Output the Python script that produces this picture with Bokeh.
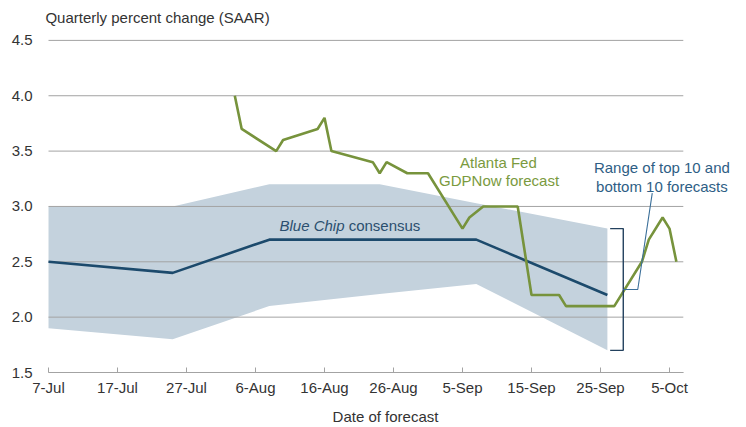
import pandas as pd
from bokeh.plotting import figure
from bokeh.models import Label, FixedTicker, Range1d, PrintfTickFormatter, ColumnDataSource
from bokeh.embed import file_html
from bokeh.resources import INLINE

YEAR = "2016"
START = "7-Jul"
AXIS_END = "7-Oct"

# x-axis tick labels (every 10 days)
x_tick_labels = ["7-Jul", "17-Jul", "27-Jul", "6-Aug", "16-Aug", "26-Aug",
                 "5-Sep", "15-Sep", "25-Sep", "5-Oct"]
y_ticks = [1.5, 2.0, 2.5, 3.0, 3.5, 4.0, 4.5]

# Range of top 10 and bottom 10 Blue Chip forecasts
range_dates = ["7-Jul", "25-Jul", "8-Aug", "24-Aug", "7-Sep", "26-Sep"]
range_upper = [3.0, 3.0, 3.2, 3.2, 3.03, 2.8]
range_lower = [1.9, 1.8, 2.1, 2.21, 2.3, 1.7]

# Blue Chip consensus
bc_dates = ["7-Jul", "25-Jul", "8-Aug", "7-Sep", "26-Sep"]
bc_values = [2.5, 2.4, 2.7, 2.7, 2.2]

# Atlanta Fed GDPNow forecast
gdp_dates = ["3-Aug", "4-Aug", "9-Aug", "10-Aug", "15-Aug", "16-Aug", "17-Aug",
             "23-Aug", "24-Aug", "25-Aug", "28-Aug", "31-Aug", "5-Sep", "6-Sep",
             "8-Sep", "13-Sep", "15-Sep", "19-Sep", "20-Sep", "27-Sep", "1-Oct",
             "2-Oct", "4-Oct", "5-Oct", "6-Oct"]
gdp_values = [4.0, 3.7, 3.5, 3.6, 3.7, 3.8, 3.5,
              3.4, 3.3, 3.4, 3.3, 3.3, 2.8, 2.9,
              3.0, 3.0, 2.2, 2.2, 2.1, 2.1, 2.5,
              2.7, 2.9, 2.8, 2.5]


def to_days(dates):
    start = pd.to_datetime(START + "-" + YEAR, format="%d-%b-%Y")
    d = pd.to_datetime([s + "-" + YEAR for s in dates], format="%d-%b-%Y")
    return [int(v) for v in (d - start).days]


x_ticks = to_days(x_tick_labels)
range_x = to_days(range_dates)
bc_x = to_days(bc_dates)
gdp_x = to_days(gdp_dates)
x_end = to_days([AXIS_END])[0]

FONT = "Liberation Sans"
TXT = "#333333"
GRID = "#a3a3a3"

# layout (pixels)
W, H = 730, 427
LEFT, BOTTOM = 40, 54
PAD_LEFT = 8          # space between frame edge and first date
PX_PER_DAY = 6.9
PX_PER_UNIT = 111.0
y_min = y_ticks[0]
x_start = -PAD_LEFT / PX_PER_DAY
x_stop = x_start + (W - LEFT) / PX_PER_DAY
y_stop = y_min + (H - BOTTOM) / PX_PER_UNIT

p = figure(width=W, height=H, output_backend="svg", toolbar_location=None,
           x_range=Range1d(x_start, x_stop), y_range=Range1d(y_min, y_stop),
           min_border_left=LEFT, min_border_right=0, min_border_top=0,
           min_border_bottom=BOTTOM)
p.outline_line_color = None
p.background_fill_color = "white"
p.border_fill_color = "white"

# shaded range (drawn below grid)
src_r = ColumnDataSource(dict(x=range_x, lo=range_lower, hi=range_upper))
shade = p.varea(x="x", y1="lo", y2="hi", source=src_r, fill_color="#c4d2dd")
shade.level = "image"

# horizontal grid lines limited to the axis extent
p.xgrid.visible = False
p.ygrid.visible = False
g = p.segment(x0=[0] * len(y_ticks), x1=[x_end] * len(y_ticks), y0=y_ticks, y1=y_ticks,
              line_color=GRID, line_width=1)
g.level = "underlay"

# Blue Chip consensus
p.line(bc_x, bc_values, line_color="#1c4a6c", line_width=2.6)

# GDPNow
p.line(gdp_x, gdp_values, line_color="#77933c", line_width=2.6)

# bracket for range end
end_x = range_x[-1]
top = range_upper[-1]
bot = range_lower[-1]
bx0 = end_x + 0.4
bx1 = end_x + 2.3
mid = (top + bot) / 2
p.line([bx0, bx1, bx1, bx0], [top, top, bot, bot], line_color="#23415e", line_width=1.4)
# leader from label to bracket
p.line([bx1, bx1 + 2.1, 87.5], [mid, mid, 3.12], line_color="#3b6f99", line_width=1.1)

# axes
xa = p.xaxis[0]
xa.ticker = FixedTicker(ticks=x_ticks)
xa.bounds = (0, x_end)
xa.major_label_overrides = {t: lab for t, lab in zip(x_ticks, x_tick_labels)}
xa.axis_line_color = GRID
xa.major_tick_line_color = GRID
xa.major_tick_in = 5
xa.major_tick_out = 0
xa.minor_tick_line_color = None
xa.major_label_text_font = FONT
xa.major_label_text_font_size = "15px"
xa.major_label_text_color = TXT
xa.major_label_standoff = 6
xa.axis_label = "Date of forecast"
xa.axis_label_text_font = FONT
xa.axis_label_text_font_size = "15px"
xa.axis_label_text_font_style = "normal"
xa.axis_label_text_color = TXT
xa.axis_label_standoff = 9

ya = p.yaxis[0]
ya.ticker = FixedTicker(ticks=y_ticks)
ya.formatter = PrintfTickFormatter(format="%.1f")
ya.axis_line_color = None
ya.major_tick_line_color = None
ya.minor_tick_line_color = None
ya.major_label_text_font = FONT
ya.major_label_text_font_size = "15px"
ya.major_label_text_color = TXT
ya.major_label_standoff = 2


def lab(x, y, text, color, align="center", style="normal"):
    p.add_layout(Label(x=x, y=y, text=text, text_color=color, text_font=FONT,
                       text_font_size="15px", text_align=align,
                       text_baseline="middle", text_font_style=style))


lab(-0.45, 4.707, "Quarterly percent change (SAAR)", TXT, align="left")
lab(42.9, 2.83, "Blue Chip", "#2b4f6f", align="right", style="italic")
lab(43.5, 2.83, "consensus", "#2b4f6f", align="left")
lab(65.2, 3.40, "Atlanta Fed", "#7a9a3e")
lab(65.3, 3.23, "GDPNow forecast", "#7a9a3e")
lab(88.9, 3.35, "Range of top 10 and", "#2e5e85")
lab(88.9, 3.18, "bottom 10 forecasts", "#2e5e85")

open("out.html", "w").write(file_html(p, INLINE))
